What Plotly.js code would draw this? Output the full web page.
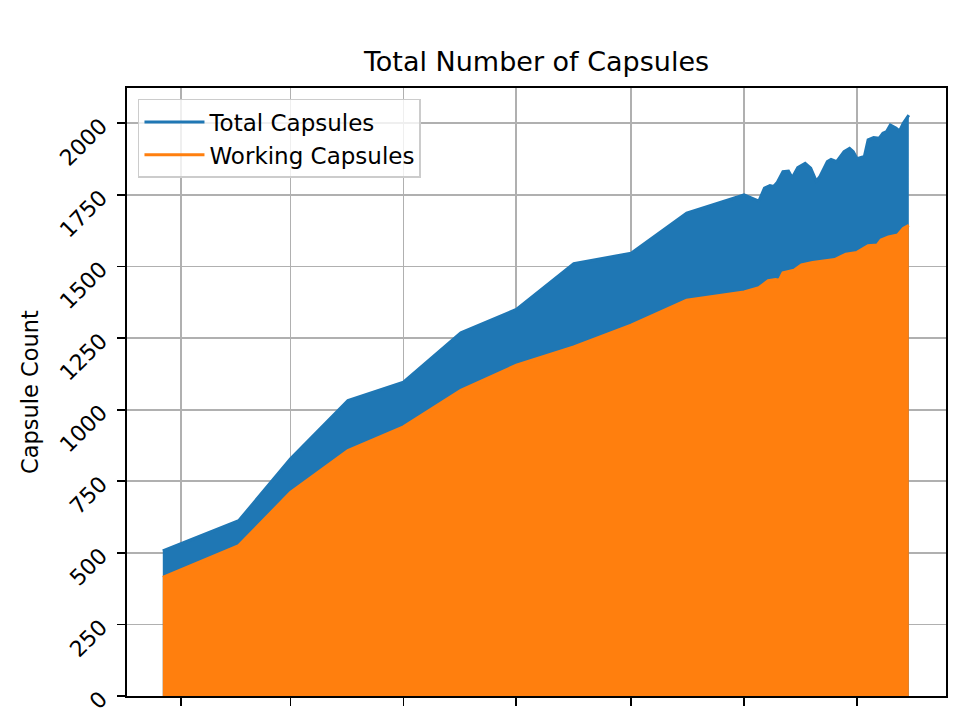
<!DOCTYPE html>
<html>
<head>
<meta charset="utf-8">
<script src="https://cdn.plot.ly/plotly-3.0.1.min.js"></script>
<style>
  html, body { margin: 0; padding: 0; background: #ffffff; }
  #chart { width: 966px; height: 714px; }
</style>
</head>
<body>
<div id="chart"></div>
<script>
// Total capsules (dates and counts)
const totalDates = ['2020-12-22','2021-02-01','2021-03-01','2021-04-01','2021-05-01','2021-06-01','2021-07-01','2021-08-01','2021-09-01','2021-10-01','2021-11-01','2021-11-09','2021-11-12','2021-11-15','2021-11-17','2021-11-19','2021-11-22','2021-11-25','2021-11-27','2021-11-30','2021-12-04','2021-12-07','2021-12-10','2021-12-12','2021-12-16','2021-12-18','2021-12-21','2021-12-25','2021-12-28','2021-12-30','2022-01-01','2022-01-05','2022-01-07','2022-01-10','2022-01-13','2022-01-15','2022-01-17','2022-01-19','2022-01-22','2022-01-24','2022-01-26','2022-01-29'];
const totalCapsules = [507,612,828,1032,1096,1268,1350,1510,1546,1686,1750,1728,1773,1782,1779,1794,1831,1833,1810,1845,1860,1843,1798,1814,1866,1874,1866,1901,1912,1901,1876,1884,1942,1950,1948,1965,1971,1994,1983,1973,2000,2028];

// Working capsules
const workingDates = ['2020-12-22','2021-02-01','2021-03-01','2021-04-01','2021-05-01','2021-06-01','2021-07-01','2021-08-01','2021-09-01','2021-10-01','2021-11-01','2021-11-09','2021-11-14','2021-11-18','2021-11-20','2021-11-22','2021-11-28','2021-12-02','2021-12-08','2021-12-20','2021-12-26','2022-01-01','2022-01-07','2022-01-12','2022-01-14','2022-01-18','2022-01-23','2022-01-26','2022-01-29'];
const workingCapsules = [414,525,711,857,940,1067,1155,1219,1295,1382,1411,1426,1450,1454,1452,1478,1487,1505,1514,1524,1543,1549,1572,1575,1592,1603,1610,1633,1644];

// Axis ticks
const xTickVals = ['2021-01-01','2021-03-01','2021-05-01','2021-07-01','2021-09-01','2021-11-01','2022-01-01'];
const yTickVals = [0,250,500,750,1000,1250,1500,1750,2000];
const seriesNames = ['Total Capsules','Working Capsules'];
const BLUE = '#1f77b4', ORANGE = '#ff7f0e';

const traces = [
  { x: totalDates, y: totalCapsules, type: 'scatter', mode: 'none', fill: 'tozeroy',
    fillcolor: BLUE, showlegend: false, hoverinfo: 'skip' },
  { x: totalDates, y: totalCapsules, type: 'scatter', mode: 'lines', name: seriesNames[0],
    line: { color: BLUE, width: 3 } },
  { x: workingDates, y: workingCapsules, type: 'scatter', mode: 'none', fill: 'tozeroy',
    fillcolor: ORANGE, showlegend: false, hoverinfo: 'skip' },
  { x: workingDates, y: workingCapsules, type: 'scatter', mode: 'lines', name: seriesNames[1],
    line: { color: ORANGE, width: 3 } }
];

const FONT = 'DejaVu Sans, sans-serif';
const layout = {
  width: 966, height: 714,
  margin: { l: 127, r: 20, t: 88, b: 18 },
  paper_bgcolor: '#ffffff', plot_bgcolor: '#ffffff',
  font: { family: FONT, color: '#000000', size: 22 },
  title: { text: 'Total Number of Capsules', x: 0.5, xref: 'paper', xanchor: 'center',
           y: 1 - 62/714, yref: 'container', yanchor: 'middle',
           font: { family: FONT, size: 27, color: '#000000' } },
  xaxis: {
    type: 'date', range: ['2020-12-02 16:00', '2022-02-18 02:00'],
    tickvals: xTickVals, showticklabels: false,
    ticks: 'outside', ticklen: 8, tickwidth: 1.8, tickcolor: '#000000',
    showgrid: true, gridcolor: '#b0b0b0', gridwidth: 1.8,
    showline: true, linecolor: '#000000', linewidth: 1.8, mirror: true,
    zeroline: false, layer: 'above traces', fixedrange: true
  },
  yaxis: {
    range: [0, 2123], tickvals: yTickVals, tickangle: -45,
    ticks: 'outside', ticklen: 8, tickwidth: 1.8, tickcolor: '#000000',
    ticklabelstandoff: 12,
    tickfont: { family: FONT, size: 22, color: '#000000' },
    showgrid: true, gridcolor: '#b0b0b0', gridwidth: 1.8,
    showline: true, linecolor: '#000000', linewidth: 1.8, mirror: true,
    zeroline: false, layer: 'above traces', fixedrange: true,
    title: { text: 'Capsule Count', font: { family: FONT, size: 22.5, color: '#000000' }, standoff: 10 }
  },
  legend: {
    x: 0.0134, y: 0.982, xanchor: 'left', yanchor: 'top',
    bgcolor: 'rgba(255,255,255,0.8)', bordercolor: '#cccccc', borderwidth: 1.5,
    itemwidth: 60,
    font: { family: FONT, size: 23, color: '#000000' }
  },
  showlegend: true
};

Plotly.newPlot('chart', traces, layout, { staticPlot: true, displayModeBar: false });
</script>
</body>
</html>
